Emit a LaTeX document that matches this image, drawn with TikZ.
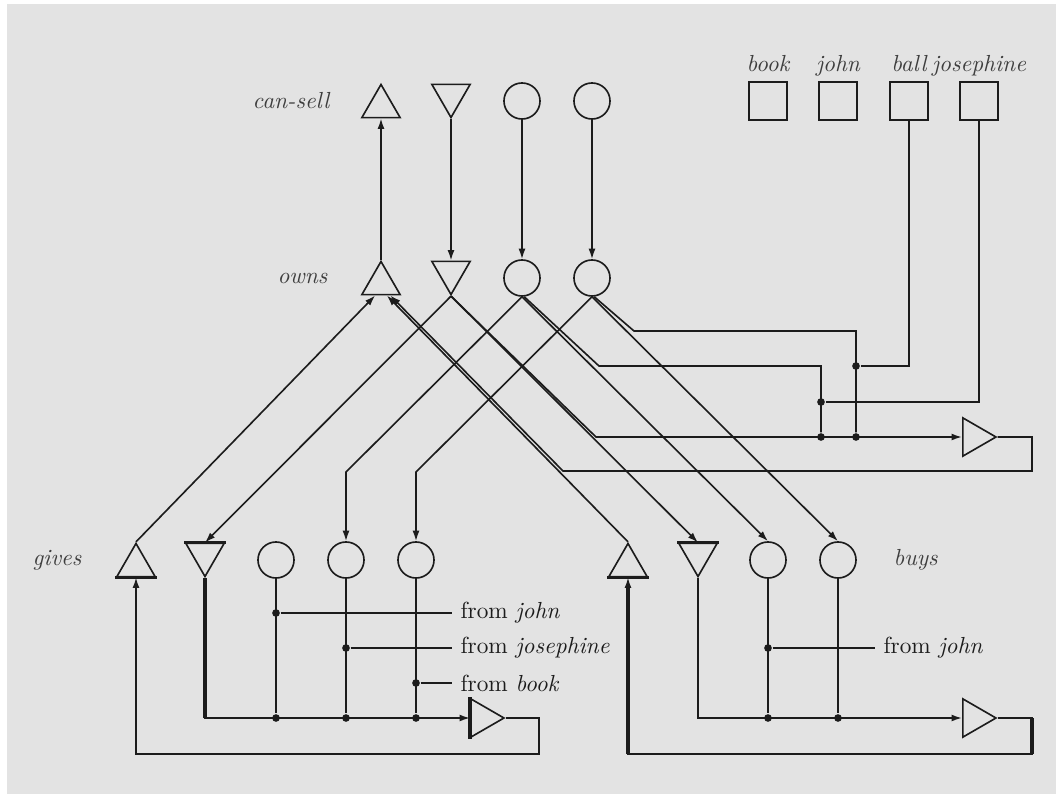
\documentclass[tikz,border=0pt]{standalone}
\usepackage{tikz}
\usetikzlibrary{positioning,shapes.geometric,arrows.meta}
\definecolor{bg}{RGB}{227,227,227}
\definecolor{ink}{RGB}{28,28,28}

\begin{document}
\begin{tikzpicture}[x=0.43pt, y=-0.43pt, line width=0.7pt, color=ink,
          trup/.style={regular polygon, regular polygon sides=3, draw,
              minimum size=19pt, inner sep=0pt, yshift=-2.4pt},
          trdn/.style={regular polygon, regular polygon sides=3, draw,
              shape border rotate=180, minimum size=19pt, inner sep=0pt, yshift=2.4pt},
          ring/.style={circle, draw, minimum size=15.5pt, inner sep=0pt},
          obj/.style={rectangle, draw, minimum size=16.3pt, inner sep=0pt},
          amp/.style={regular polygon, regular polygon sides=3, draw,
              shape border rotate=-90, minimum size=19pt, inner sep=0pt, anchor=west},
          jdot/.style={circle, fill=ink, inner sep=0pt, minimum size=3.3pt},
          rowlbl/.style={font=\itshape, text=ink!85},
          objlbl/.style={font=\itshape, text=ink!85, text depth=0pt, inner sep=1pt},
          srclbl/.style={anchor=west},
          arr/.style={-{Latex[length=4.5pt,width=3pt]}},
          heavy/.style={line width=1.5pt}
        ]
        \fill[white] (0,0) rectangle (1056,794);
        \fill[bg] (7,4) rectangle (1056,794);
        \useasboundingbox (0,0) rectangle (1056,794);

        \node[trup] (cs1) at (381,101) {};
        \node[trdn] (cs2) at (451,101) {};
        \node[ring] (cs3) at (522,101) {};
        \node[ring] (cs4) at (592,101) {};
        \node[rowlbl, anchor=east] (lcs) at (338,101) {can-sell};

        \node[trup] (ow1) at (381,278) {};
        \node[trdn] (ow2) at (451,278) {};
        \node[ring] (ow3) at (522,278) {};
        \node[ring] (ow4) at (592,278) {};
        \node[rowlbl, anchor=east] (low) at (336,278) {owns};

        \node[obj] (ob1) at (768,101) {};
        \node[obj] (ob2) at (838,101) {};
        \node[obj] (ob3) at (909,101) {};
        \node[obj] (ob4) at (979,101) {};
        \node[objlbl, above=3pt of ob1] (lob1) {book};
        \node[objlbl, above=3pt of ob2] (lob2) {john};
        \node[objlbl, above=3pt of ob3] (lob3) {ball};
        \node[objlbl, above=3pt of ob4] (lob4) {josephine};

        \node[trup] (gv1) at (136,560) {};
        \node[trdn] (gv2) at (205,560) {};
        \node[ring] (gv3) at (276,560) {};
        \node[ring] (gv4) at (346,560) {};
        \node[ring] (gv5) at (416,560) {};
        \node[rowlbl, anchor=east] (lgv) at (90,560) {gives};

        \node[trup] (by1) at (628,560) {};
        \node[trdn] (by2) at (698,560) {};
        \node[ring] (by3) at (768,560) {};
        \node[ring] (by4) at (838,560) {};
        \node[rowlbl, anchor=west] (lby) at (885,560) {buys};

        \node[amp] (am1) at (470,718) {};
        \node[amp] (am2) at (962,718) {};
        \node[amp] (am3) at (962,437) {};

        \node[jdot] (dA) at (856,366) {};
        \node[jdot] (dB) at (821,402) {};
        \node[jdot] (dC) at (821,437) {};
        \node[jdot] (dD) at (856,437) {};

        \node[jdot] (gA) at (276,613) {};
        \node[jdot] (gB) at (346,648) {};
        \node[jdot] (gC) at (416,683) {};
        \node[jdot] (gD) at (276,718) {};
        \node[jdot] (gE) at (346,718) {};
        \node[jdot] (gF) at (416,718) {};

        \node[jdot] (bA) at (768,648) {};
        \node[jdot] (bB) at (768,718) {};
        \node[jdot] (bC) at (838,718) {};

        \node[srclbl] (fg1) at (452,613) {from \textit{john}};
        \node[srclbl] (fg2) at (452,648) {from \textit{josephine}};
        \node[srclbl] (fg3) at (452,683) {from \textit{book}};
        \node[srclbl] (fb1) at (875,648) {from \textit{john}};

        \coordinate (kL) at (0,472);
        \coordinate (k4) at (634,331);
        \coordinate (k3) at (599,366);
        \coordinate (k2) at (596,437);
        \coordinate (lpc) at (563,471);
        \coordinate (lpr) at (1032,471);
        \coordinate (lpg) at (539,754);
        \coordinate (lpb) at (1032,754);

        \draw[arr] (ow1.north) -- (cs1.south);
        \draw[arr] (cs2.south) -- (ow2.north);
        \draw[arr] (cs3.south) -- (ow3.north);
        \draw[arr] (cs4.south) -- (ow4.north);

        \draw[arr] (gv1.north) -- ([xshift=-2.5pt]ow1.south);
        \draw[arr] (ow2.south) -- (gv2.north);
        \draw[arr] (ow3.south) -- (gv4.north |- kL) -- (gv4.north);
        \draw[arr] (ow4.south) -- (gv5.north |- kL) -- (gv5.north);

        \draw[arr] (by1.north) -- ([xshift=2.5pt]ow1.south);
        \draw[arr] (ow2.south) -- (by2.north);
        \draw[arr] (ow3.south) -- (by3.north);
        \draw[arr] (ow4.south) -- (by4.north);

        \draw ([xshift=1pt]ow4.south) -- (k4) -| (dD);
        \draw ([xshift=1pt]ow3.south) -- (k3) -| (dC);
        \draw[arr] (ow2.south) -- (k2) -- (am3.west);
        \draw (ob3.south) |- (dA);
        \draw (ob4.south) |- (dB);
        \draw[arr] (am3.east) -| (lpr) -- (lpc) -- ([xshift=4pt]ow1.south);

        \draw[arr] (gv2.south) |- (am1.west);
        \draw (gv3.south) -- (gD);
        \draw (gv4.south) -- (gE);
        \draw (gv5.south) -- (gF);
        \draw (gA) -- (fg1.west);
        \draw (gB) -- (fg2.west);
        \draw (gC) -- (fg3.west);
        \draw[arr] (am1.east) -| (lpg) -| (gv1.south);

        \draw[arr] (by2.south) |- (am2.west);
        \draw (by3.south) -- (bB);
        \draw (by4.south) -- (bC);
        \draw (bA) -- (fb1.west);
        \draw[arr] (am2.east) -| (lpb) -| (by1.south);

        \draw[heavy] (gv2.south) -- (gv2.south |- am1.west);
        \draw[heavy] (by1.south |- lpb) -- ([yshift=-3pt]by1.south);
        \draw[heavy] (lpb) -- (lpb |- am2.east);
        \draw[heavy] (gv1.corner 2) -- (gv1.corner 3);
        \draw[heavy] (gv2.corner 2) -- (gv2.corner 3);
        \draw[heavy] (by1.corner 2) -- (by1.corner 3);
        \draw[heavy] (by2.corner 2) -- (by2.corner 3);
        \draw[heavy] (am1.corner 2) -- (am1.corner 3);
      \end{tikzpicture}
\end{document}
